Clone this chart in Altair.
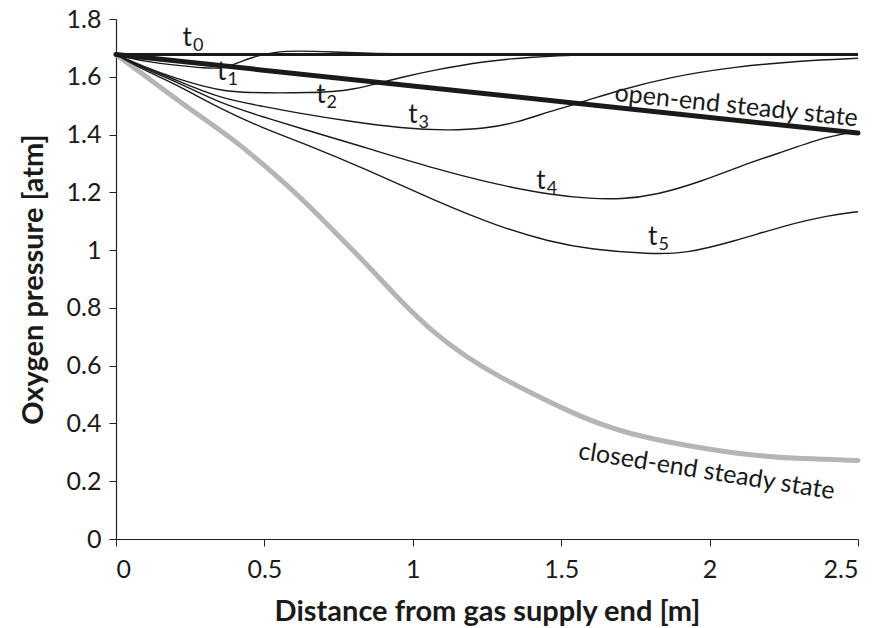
import altair as alt
import pandas as pd

FONT = "Lato"

t0_x = [0.0, 2.5]
t0_y = [1.677, 1.677]
open_x = [0.0, 2.5]
open_y = [1.677, 1.405]
t1_x = [0.0, 0.1, 0.2, 0.3, 0.36, 0.41, 0.46, 0.53, 0.62, 0.73, 0.85, 1.0, 2.5]
t1_y = [1.677, 1.652, 1.64, 1.63, 1.628, 1.648, 1.668, 1.686, 1.69, 1.686, 1.681, 1.678, 1.677]
t2_x = [0.0, 0.1, 0.2, 0.3, 0.37, 0.45, 0.55, 0.65, 0.73, 0.8, 0.88, 0.96, 1.07, 1.24, 1.4, 1.58, 1.8, 2.5]
t2_y = [1.677, 1.632, 1.595, 1.565, 1.55, 1.545, 1.544, 1.545, 1.548, 1.557, 1.576, 1.598, 1.623, 1.654, 1.669, 1.676, 1.677, 1.677]
t3_x = [0.0, 0.1, 0.2, 0.35, 0.5, 0.62, 0.79, 0.96, 1.12, 1.24, 1.35, 1.46, 1.58, 1.69, 1.86, 2.08, 2.3, 2.5]
t3_y = [1.677, 1.63, 1.59, 1.525, 1.497, 1.473, 1.445, 1.422, 1.414, 1.42, 1.441, 1.48, 1.515, 1.552, 1.598, 1.634, 1.655, 1.664]
t4_x = [0.0, 0.1, 0.2, 0.35, 0.5, 0.62, 0.85, 1.07, 1.29, 1.46, 1.6, 1.7, 1.82, 1.98, 2.1, 2.26, 2.4, 2.5]
t4_y = [1.677, 1.625, 1.585, 1.508, 1.46, 1.422, 1.352, 1.283, 1.225, 1.192, 1.178, 1.176, 1.19, 1.24, 1.29, 1.345, 1.395, 1.41]
t5_x = [0.0, 0.1, 0.2, 0.35, 0.5, 0.62, 0.85, 1.07, 1.29, 1.46, 1.6, 1.8, 1.92, 2.08, 2.26, 2.4, 2.5]
t5_y = [1.677, 1.62, 1.575, 1.49, 1.42, 1.375, 1.277, 1.173, 1.081, 1.029, 1.002, 0.986, 0.988, 1.03, 1.087, 1.12, 1.133]
closed_x = [0.0, 0.08, 0.17, 0.28, 0.4, 0.5, 0.62, 0.73, 0.85, 0.96, 1.07, 1.18, 1.29, 1.41,
            1.52, 1.63, 1.74, 1.86, 1.97, 2.08, 2.19, 2.3, 2.5]
closed_y = [1.677, 1.617, 1.548, 1.466, 1.38, 1.293, 1.185, 1.07, 0.946, 0.822, 0.714, 0.63,
            0.562, 0.5, 0.445, 0.397, 0.362, 0.336, 0.315, 0.298, 0.286, 0.278, 0.272]

series = {
    "t0": (t0_x, t0_y), "open": (open_x, open_y), "t1": (t1_x, t1_y),
    "t2": (t2_x, t2_y), "t3": (t3_x, t3_y), "t4": (t4_x, t4_y),
    "t5": (t5_x, t5_y), "closed": (closed_x, closed_y),
}
rows = []
for name, (xs_, ys_) in series.items():
    for i, (a, b) in enumerate(zip(xs_, ys_)):
        rows.append({"series": name, "x": a, "y": b, "order": i})
df = pd.DataFrame(rows)

lab_main = ["t", "t", "t", "t", "t", "t"]
lab_sub = ["0", "1", "2", "3", "4", "5"]
lab_x = [0.24, 0.356, 0.69, 1.0, 1.432, 1.808]
lab_y = [1.735, 1.617, 1.537, 1.466, 1.238, 1.044]
labels = pd.DataFrame({"t": lab_main, "s": lab_sub, "x": lab_x, "y": lab_y})

rot_text = ["open-end steady state", "closed-end steady state"]
rot_x = [2.09, 1.99]
rot_y = [1.50, 0.235]
rot_angle = [6, 9]
rot = pd.DataFrame({"text": rot_text, "x": rot_x, "y": rot_y, "angle": rot_angle})

xs = alt.Scale(domain=[0, 2.5], nice=False, zero=False)
ys = alt.Scale(domain=[0, 1.8], nice=False)

X = alt.X("x:Q", scale=xs, axis=alt.Axis(title="Distance from gas supply end [m]",
                                         values=[0, 0.5, 1, 1.5, 2, 2.5], format="~g",
                                         labelPadding=11, titlePadding=15))
Y = alt.Y("y:Q", scale=ys, axis=alt.Axis(title="Oxygen pressure [atm]",
                                         values=[0, 0.2, 0.4, 0.6, 0.8, 1.0, 1.2, 1.4, 1.6, 1.8],
                                         format="~g", labelPadding=8, titlePadding=18))

base = alt.Chart(df)
closed = base.transform_filter("datum.series == 'closed'").mark_line(
    color="#b5b5b5", strokeWidth=5, interpolate="basis", strokeCap="round"
).encode(x=X, y=Y, order="order:Q")
thin = base.transform_filter("indexof(['t1','t2','t3','t4','t5'], datum.series) >= 0").mark_line(
    color="#1a1a1a", strokeWidth=1.4, interpolate="basis"
).encode(x=X, y=Y, detail="series:N", order="order:Q")
t0 = base.transform_filter("datum.series == 't0'").mark_line(
    color="#1a1a1a", strokeWidth=3
).encode(x=X, y=Y, order="order:Q")
opn = base.transform_filter("datum.series == 'open'").mark_line(
    color="#1a1a1a", strokeWidth=5, strokeCap="round"
).encode(x=X, y=Y, order="order:Q")

tmain = alt.Chart(labels).mark_text(font=FONT, fontSize=26, color="#1a1a1a").encode(
    x=alt.X("x:Q", scale=xs), y=alt.Y("y:Q", scale=ys), text="t:N")
tsub = alt.Chart(labels).mark_text(font=FONT, fontSize=18, color="#1a1a1a", dx=11, dy=8).encode(
    x=alt.X("x:Q", scale=xs), y=alt.Y("y:Q", scale=ys), text="s:N")

rot_layers = []
for i in range(len(rot_text)):
    rot_layers.append(
        alt.Chart(rot.iloc[[i]]).mark_text(font=FONT, fontSize=25, color="#1a1a1a",
                                            angle=rot_angle[i]).encode(
            x=alt.X("x:Q", scale=xs), y=alt.Y("y:Q", scale=ys), text="text:N")
    )

chart = alt.layer(closed, thin, t0, opn, tmain, tsub, *rot_layers).properties(
    width=742, height=520,
    background="white",
    autosize=alt.AutoSizeParams(type="none"),
    padding={"left": 116, "top": 19, "right": 21, "bottom": 89},
).configure_view(stroke=None).configure_axis(
    grid=False, domainColor="#222", tickColor="#222", tickSize=7, domainWidth=1.2,
    labelFont=FONT, labelFontSize=25, labelColor="#1a1a1a",
    titleFont=FONT, titleFontSize=29, titleFontWeight="bold", titleColor="#1a1a1a",
)

chart.save("out.html", embed_options={"renderer": "svg", "actions": False})
